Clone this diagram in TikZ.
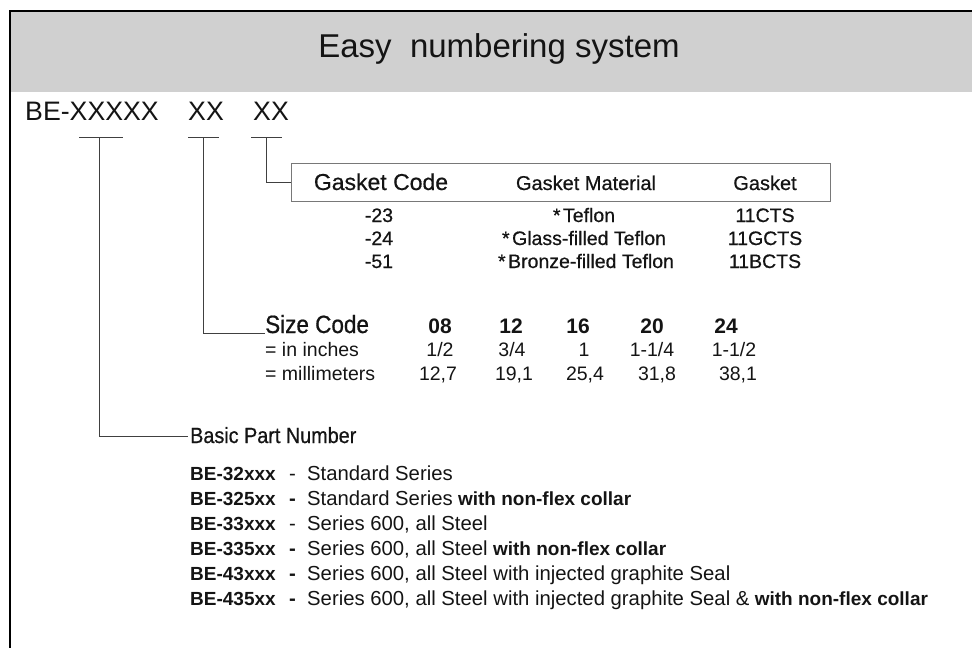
\documentclass[tikz,border=0pt]{standalone}
\usepackage{fontspec}
\setmainfont{Liberation Sans}
\newfontfamily\med{Liberation Sans}[FakeStretch=0.9, FakeBold=0.7]
\newfontfamily\medw{Liberation Sans}[FakeBold=0.6]
\definecolor{band}{RGB}{208,208,208}
\definecolor{ink}{RGB}{20,20,20}
\definecolor{boxline}{RGB}{120,120,120}
\newcommand{\fs}[1]{\fontsize{#1}{#1}\selectfont}
\begin{document}
\begin{tikzpicture}[x=1pt,y=1pt,
  lt/.style={inner sep=0pt, anchor=base west, text=ink},
  ct/.style={inner sep=0pt, anchor=base, text=ink},
  conn/.style={line width=0.9pt, draw=black!75},
  tick/.style={line width=0.9pt, draw=black!75},
  cell/.style={font=\medw\fs{19.5}},
  num/.style={font=\bfseries\fs{21}},
  val/.style={font=\fs{19.5}},
  lst/.style={font=\fs{20.3}},
  lstb/.style={font=\bfseries\fs{19}},
]
\useasboundingbox (0,0) rectangle (972,-648);
% frame and title band
\fill[band] (11,-12) rectangle (972,-92);
\draw[line width=2.6pt] (10,-648) -- (10,-11) -- (972,-11);
\node[ct, font=\fs{33}] (title) at (499,-57) {Easy\ \ numbering system};

% part number pattern
\node[lt, font=\fs{26.7}] (pn) at (25,-120) {BE-XXXXX};
\node[lt, font=\fs{26.7}] (sz) at (188,-120) {XX};
\node[lt, font=\fs{26.7}] (gk) at (253,-120) {XX};

% ticks
\coordinate (t1a) at (79,-137);  \coordinate (t1b) at (123,-137); \coordinate (t1m) at (99,-137);
\coordinate (t2a) at (188,-137); \coordinate (t2b) at (219,-137); \coordinate (t2m) at (203,-137);
\coordinate (t3a) at (251,-137); \coordinate (t3b) at (282,-137); \coordinate (t3m) at (266,-137);
\draw[tick] (t1a) -- (t1b);
\draw[tick] (t2a) -- (t2b);
\draw[tick] (t3a) -- (t3b);

% gasket box
\node[draw=boxline, line width=0.8pt, minimum width=539pt, minimum height=38pt,
      anchor=north west, inner sep=0pt] (gbox) at (291,-163) {};
\draw[conn] (t3m) |- (gbox.west);
\node[ct, font=\medw\fs{23}] (hcode) at (381,-190) {Gasket Code};
\node[ct, font=\medw\fs{20}] (hmat) at (586,-190) {Gasket Material};
\node[ct, font=\medw\fs{20}] (hgas) at (765,-190) {Gasket};

\node[ct, cell] (c1) at (379,-222) {-23};
\node[ct, cell] (m1) at (584,-222) {*\kern2.5pt Teflon};
\node[ct, cell] (g1) at (765,-222) {11CTS};
\node[ct, cell] (c2) at (379,-245) {-24};
\node[ct, cell] (m2) at (584,-245) {*\kern2.5pt Glass-filled Teflon};
\node[ct, cell] (g2) at (765,-245) {11GCTS};
\node[ct, cell] (c3) at (379,-268) {-51};
\node[ct, cell] (m3) at (586,-268) {*\kern2.5pt Bronze-filled Teflon};
\node[ct, cell] (g3) at (765,-268) {11BCTS};

% size code
\node[lt, font=\med\fs{25}] (scode) at (265,-333) {Size Code};
\coordinate (sline) at (265,-333);
\draw[conn] (t2m) |- (sline);
\node[ct, num] (s08) at (440,-333) {08};
\node[ct, num] (s12) at (511,-333) {12};
\node[ct, num] (s16) at (578,-333) {16};
\node[ct, num] (s20) at (652,-333) {20};
\node[ct, num] (s24) at (726,-333) {24};
\node[lt, val] (inch) at (265,-356) {= in inches};
\node[ct, val] (i08) at (440,-356) {1/2};
\node[ct, val] (i12) at (512,-356) {3/4};
\node[ct, val] (i16) at (584,-356) {1};
\node[ct, val] (i20) at (652,-356) {1-1/4};
\node[ct, val] (i24) at (734,-356) {1-1/2};
\node[lt, val] (mm) at (265,-380) {= millimeters};
\node[ct, val] (m08) at (438,-380) {12,7};
\node[ct, val] (m12) at (514,-380) {19,1};
\node[ct, val] (m16) at (585,-380) {25,4};
\node[ct, val] (m20) at (657,-380) {31,8};
\node[ct, val] (m24) at (738,-380) {38,1};

% basic part number
\node[lt, font=\med\fs{22}] (bpn) at (190,-443) {Basic Part Number};
\coordinate (bline) at (188,-436);
\draw[conn] (t1m) |- (bline);

\foreach \i/\code/\dash/\desc/\extra in {
  1/BE-32xxx/{-}/Standard Series/{},
  2/BE-325xx/{\bfseries -}/Standard Series/{\bfseries\fs{19}\ with non-flex collar},
  3/BE-33xxx/{-}/{Series 600, all Steel}/{},
  4/BE-335xx/{\bfseries -}/{Series 600, all Steel}/{\bfseries\fs{19}\ with non-flex collar},
  5/BE-43xxx/{\bfseries -}/{Series 600, all Steel with injected graphite Seal}/{},
  6/BE-435xx/{\bfseries -}/{Series 600, all Steel with injected graphite Seal \&}/{\bfseries\fs{19}\ with non-flex collar}}
{
  \node[lt, lstb] (code\i) at (190,{-480-25*(\i-1)}) {\code};
  \node[lt, lst] (dash\i) at (289,{-480-25*(\i-1)}) {\dash};
  \node[lt, lst] (desc\i) at (307,{-480-25*(\i-1)}) {\desc\extra};
}
\end{tikzpicture}
\end{document}
